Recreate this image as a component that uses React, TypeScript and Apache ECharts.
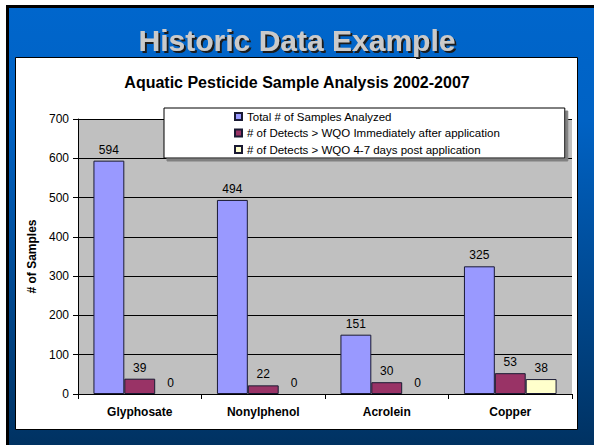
import React, { useEffect, useRef } from "react";
import * as echarts from "echarts";

const categories = ["Glyphosate", "Nonylphenol", "Acrolein", "Copper"];
const seriesNames = [
  "Total # of Samples Analyzed",
  "# of Detects > WQO Immediately after application",
  "# of Detects > WQO 4-7 days post application",
];
const totalSamples = [594, 494, 151, 325];
const detectsImmediate = [39, 22, 30, 53];
const detectsPost = [0, 0, 0, 38];
const yTicks = { min: 0, max: 700, interval: 100 };

const FONT = "Arial, 'Liberation Sans', sans-serif";

export default function App() {
  const ref = useRef<HTMLDivElement>(null);
  useEffect(() => {
    if (!ref.current) return;
    const chart = echarts.init(ref.current, null, { renderer: "svg" });
    const colors = ["#9999FF", "#993366", "#FFFFCC"];
    const values = [totalSamples, detectsImmediate, detectsPost];
    chart.setOption({
      animation: false,
      backgroundColor: "#ffffff",
      graphic: [
        { type: "rect", z: -100, silent: true, shape: { x: 6, y: 5, width: 600, height: 450 }, style: { fill: "#000000" } },
        {
          type: "rect",
          z: -99,
          silent: true,
          shape: { x: 9, y: 8, width: 600, height: 450 },
          style: {
            fill: new echarts.graphic.LinearGradient(0, 0, 0, 1, [
              { offset: 0, color: "#0066CC" },
              { offset: 0.25, color: "#0062C4" },
              { offset: 1, color: "#00305E" },
            ]),
          },
        },
        {
          type: "rect",
          z: -98,
          silent: true,
          shape: { x: 15.5, y: 57.5, width: 562, height: 372 },
          style: { fill: "#ffffff", stroke: "#000000", lineWidth: 1 },
        },
      ],
      title: [
        {
          text: "Historic Data Example",
          left: "center",
          top: 20,
          textStyle: {
            fontFamily: FONT,
            fontSize: 30,
            fontWeight: "bold",
            color: "#CACACA",
            textShadowColor: "#1a1a1a",
            textShadowOffsetX: 2,
            textShadowOffsetY: 2,
            textShadowBlur: 1,
          },
        },
        {
          text: "Aquatic Pesticide Sample Analysis 2002-2007",
          left: "center",
          top: 69,
          textStyle: { fontFamily: FONT, fontSize: 16, fontWeight: "bold", color: "#000" },
        },
      ],
      legend: {
        orient: "vertical",
        left: 164,
        top: 108,
        padding: [2, 65, 2, 70],
        itemGap: 3.5,
        itemWidth: 7,
        itemHeight: 7,
        icon: "rect",
        backgroundColor: "#ffffff",
        borderColor: "#000000",
        borderWidth: 1,
        shadowColor: "#808080",
        shadowOffsetX: 3,
        shadowOffsetY: 3,
        shadowBlur: 0,
        textStyle: { fontFamily: FONT, fontSize: 11.5, color: "#000", lineHeight: 13 },
        data: seriesNames,
      },
      grid: {
        left: 78,
        right: 22,
        top: 119,
        bottom: 51,
        show: true,
        backgroundColor: "#C0C0C0",
        borderWidth: 0,
      },
      xAxis: {
        type: "category",
        data: categories,
        axisLine: { lineStyle: { color: "#000", width: 1 } },
        axisTick: { show: true, length: 5, interval: 0, lineStyle: { color: "#000" } },
        axisLabel: { fontFamily: FONT, fontSize: 12, fontWeight: "bold", color: "#000", margin: 12 },
      },
      yAxis: {
        type: "value",
        min: yTicks.min,
        max: yTicks.max,
        interval: yTicks.interval,
        name: "# of Samples",
        nameLocation: "middle",
        nameGap: 38,
        nameTextStyle: { fontFamily: FONT, fontSize: 12, fontWeight: "bold", color: "#000" },
        axisLine: { show: true, lineStyle: { color: "#000", width: 1 } },
        axisTick: { show: true, length: 5, lineStyle: { color: "#000" } },
        axisLabel: { fontFamily: FONT, fontSize: 12, color: "#000", margin: 9 },
        splitLine: { show: true, lineStyle: { color: "#000", width: 1 } },
      },
      series: seriesNames.map((name, i) => ({
        name,
        type: "bar",
        data: values[i].map((v) =>
          v === 0 ? { value: v, itemStyle: { borderWidth: 0 } } : v
        ),
        barGap: "0%",
        barCategoryGap: "25%",
        itemStyle: { color: colors[i], borderColor: "#1a1a33", borderWidth: 1 },
        label: {
          show: true,
          position: "top",
          distance: 5,
          fontFamily: FONT,
          fontSize: 12,
          color: "#000",
        },
      })),
    });
    return () => chart.dispose();
  }, []);
  return (
    <div
      ref={ref}
      style={{ position: "absolute", left: 0, top: 0, width: 594, height: 445 }}
    />
  );
}
